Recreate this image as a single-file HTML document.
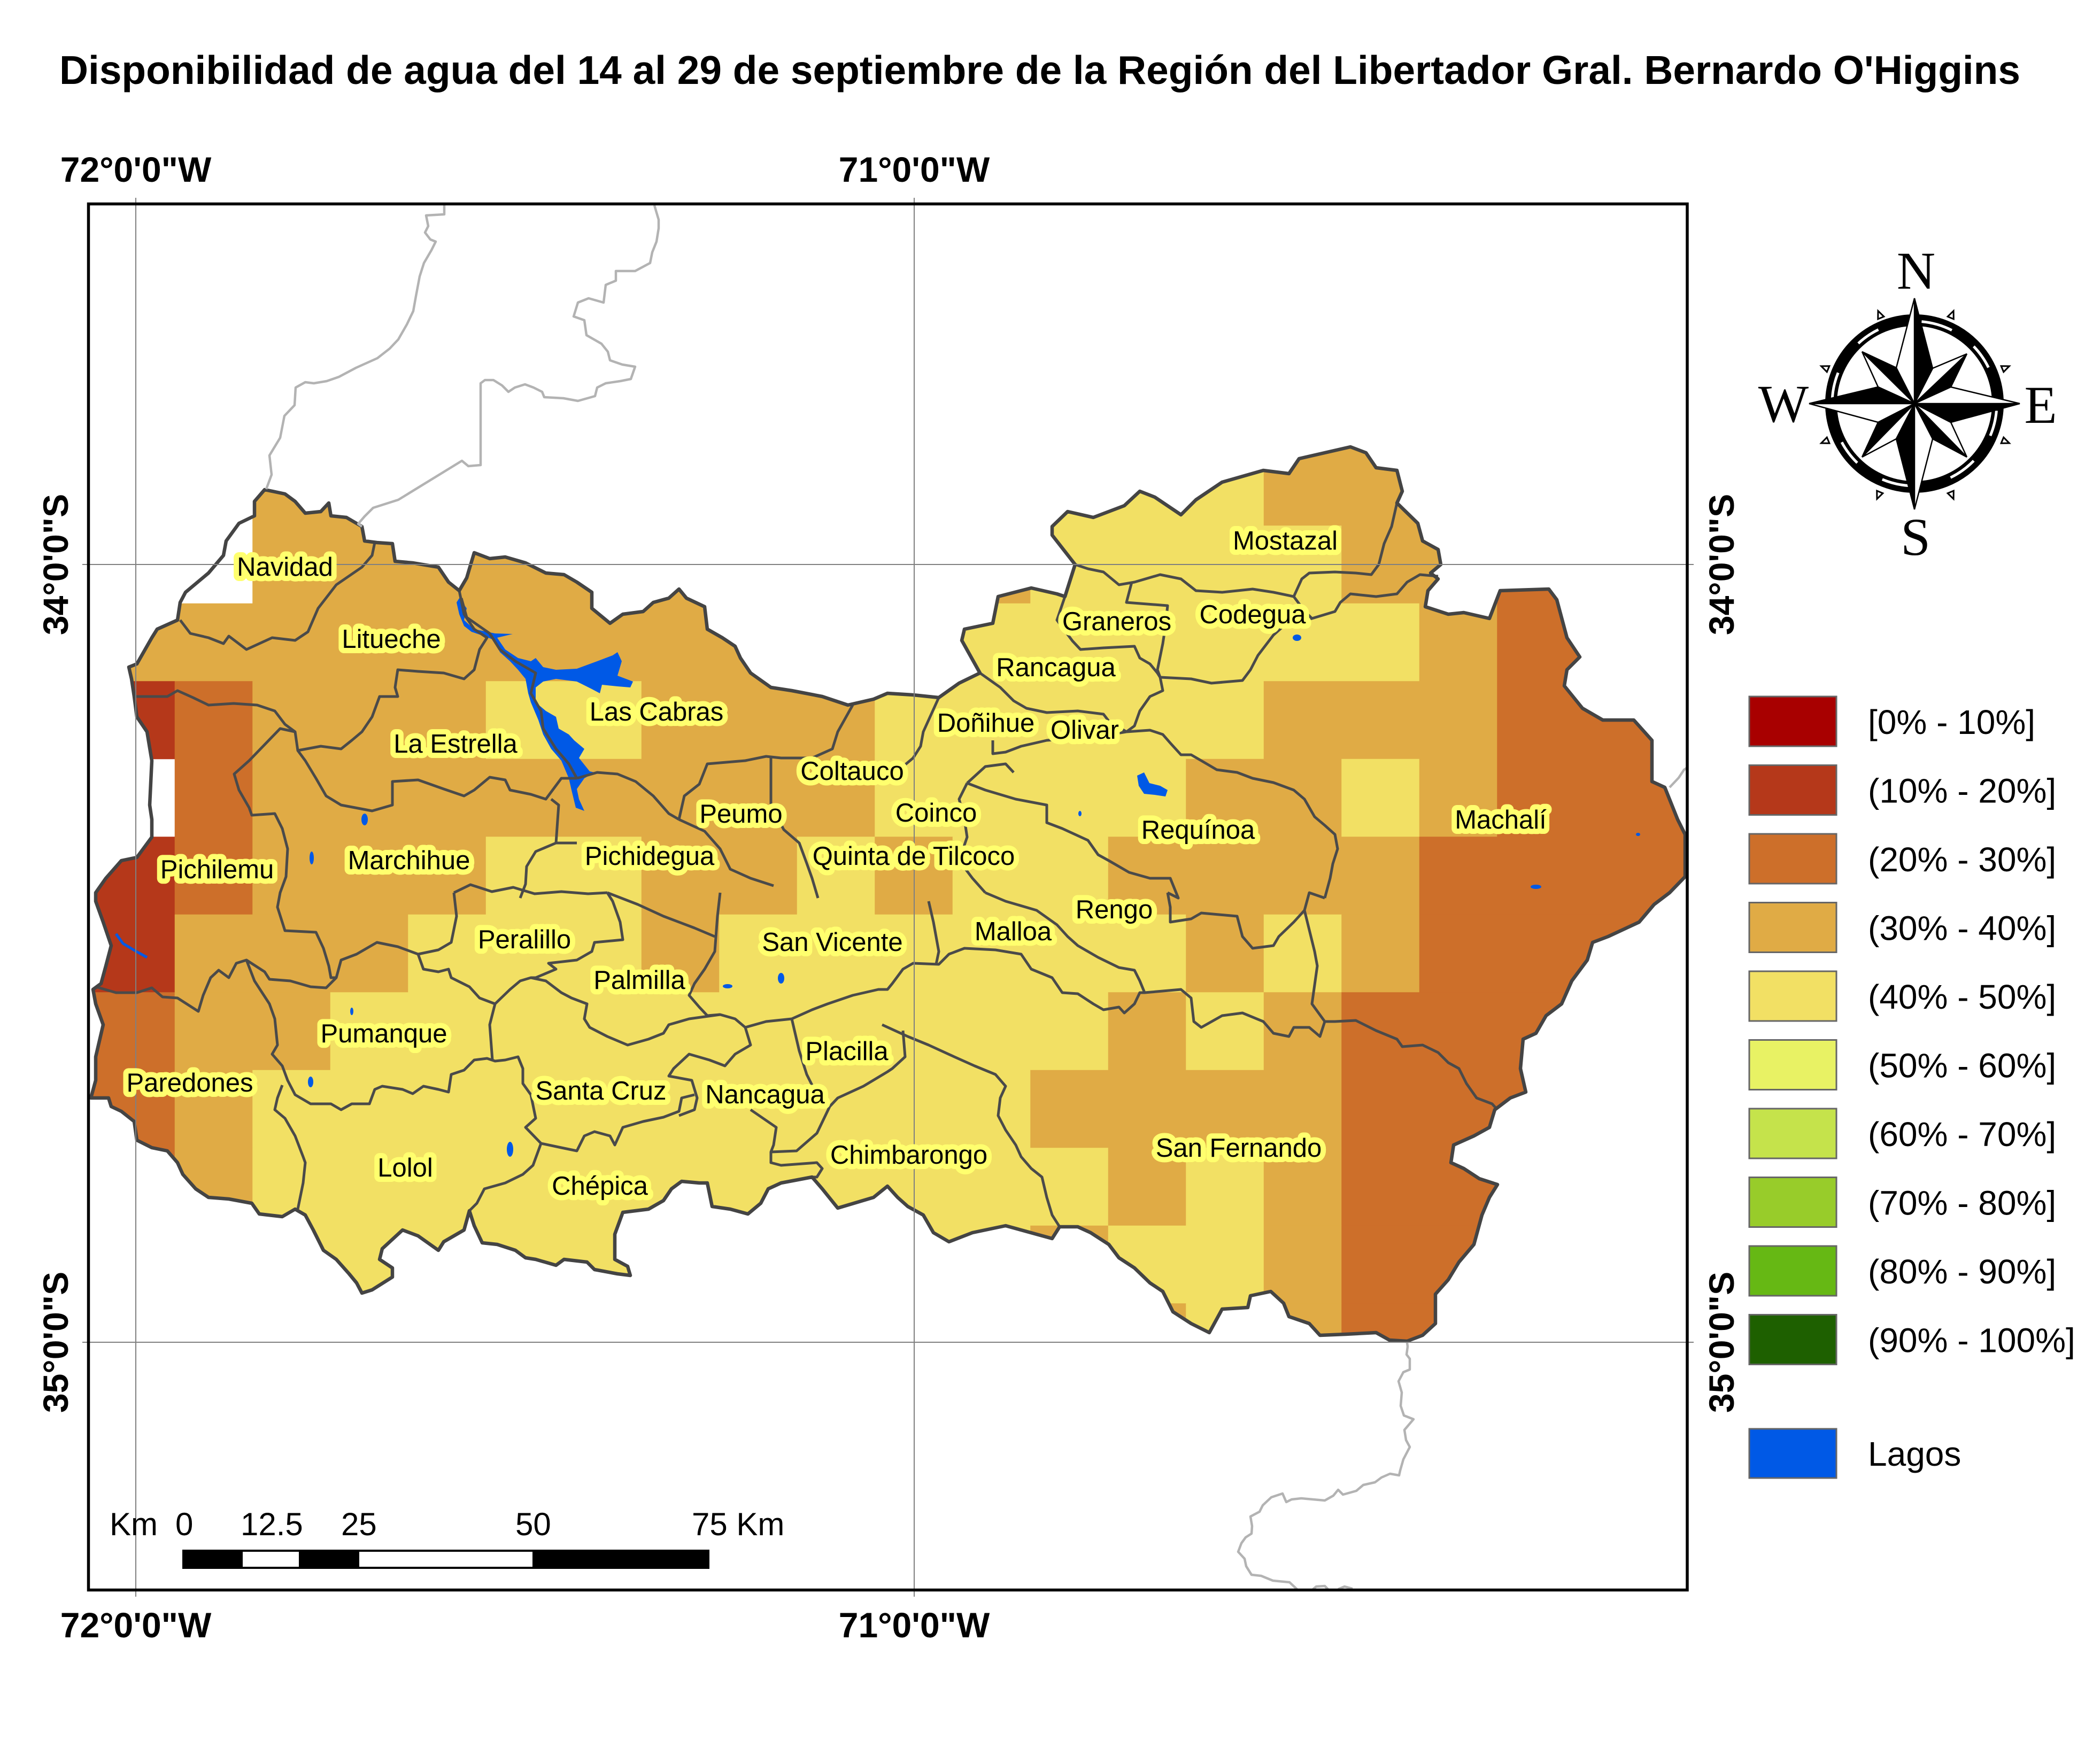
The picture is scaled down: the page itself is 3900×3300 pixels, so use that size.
<!DOCTYPE html>
<html>
<head>
<meta charset="utf-8">
<style>
html,body{margin:0;padding:0;background:#fff;}
svg{display:block;}
.lbl{font-family:"Liberation Sans",Arial,sans-serif;font-size:49px;fill:#000;stroke:#FFFF6E;stroke-width:20px;stroke-linejoin:round;paint-order:stroke fill;text-anchor:middle;}
.ax{font-family:"Liberation Sans",Arial,sans-serif;font-size:66px;font-weight:bold;fill:#000;text-anchor:middle;}
.lg{font-family:"Liberation Sans",Arial,sans-serif;font-size:64px;fill:#000;}
.sb{font-family:"Liberation Sans",Arial,sans-serif;font-size:60px;fill:#000;}
.cp{font-family:"Liberation Serif","Times New Roman",serif;font-size:100px;fill:#000;text-anchor:middle;}
.bd{fill:none;stroke:#4A4A4A;stroke-width:5;stroke-linejoin:round;}
.gr{fill:none;stroke:#B3B3B3;stroke-width:4.5;stroke-linejoin:round;}
</style>
</head>
<body>
<svg width="3900" height="3300" viewBox="0 0 3900 3300" xmlns="http://www.w3.org/2000/svg">
<rect x="0" y="0" width="3900" height="3300" fill="#fff"/>

<!-- Title -->
<text x="1945" y="157" font-family="Liberation Sans, Arial, sans-serif" font-size="75" font-weight="bold" text-anchor="middle" textLength="3668" lengthAdjust="spacingAndGlyphs">Disponibilidad de agua del 14 al 29 de septiembre de la Región del Libertador Gral. Bernardo O'Higgins</text>

<!-- Axis labels -->
<text class="ax" x="254" y="340">72°0'0"W</text>
<text class="ax" x="1710" y="340">71°0'0"W</text>
<text class="ax" x="254" y="3063">72°0'0"W</text>
<text class="ax" x="1710" y="3063">71°0'0"W</text>
<text class="ax" transform="translate(127,1056) rotate(-90)">34°0'0"S</text>
<text class="ax" transform="translate(127,2511) rotate(-90)">35°0'0"S</text>
<text class="ax" transform="translate(3243,1056) rotate(-90)">34°0'0"S</text>
<text class="ax" transform="translate(3243,2511) rotate(-90)">35°0'0"S</text>

<defs>
<clipPath id="reg">
<polygon id="regpoly" points="241,1248 256,1242 284,1193 294,1177 332,1160 337,1127 347,1108 390,1072 418,1039 423,1012 447,979 476,965 476,938 495,916 533,924 552,938 571,960 600,957 615,941 619,965 648,968 677,985 682,1012 705,1015 734,1017 739,1050 772,1053 820,1061 839,1089 859,1105 873,1081 878,1064 887,1034 916,1045 945,1042 983,1053 1021,1072 1055,1075 1079,1089 1107,1108 1107,1138 1141,1166 1165,1149 1203,1144 1222,1127 1251,1119 1270,1102 1284,1119 1318,1135 1323,1177 1351,1193 1375,1209 1385,1231 1404,1259 1442,1286 1481,1292 1538,1303 1586,1319 1634,1308 1660,1297 1708,1300 1756,1305 1794,1278 1833,1259 1799,1198 1804,1177 1857,1166 1867,1116 1929,1100 1977,1111 1992,1116 2011,1056 1968,1001 1968,985 1997,957 2045,968 2103,946 2132,919 2160,930 2209,963 2237,935 2286,902 2363,880 2411,886 2430,858 2478,847 2526,836 2555,847 2574,875 2613,880 2623,919 2613,941 2652,979 2661,1012 2690,1028 2695,1056 2676,1072 2690,1083 2671,1105 2666,1135 2709,1149 2738,1146 2786,1157 2806,1105 2897,1102 2912,1122 2931,1193 2955,1229 2931,1253 2926,1283 2960,1325 2998,1347 3056,1347 3090,1385 3090,1462 3114,1473 3138,1533 3152,1561 3152,1640 3123,1670 3094,1692 3066,1725 3008,1752 2979,1763 2969,1796 2940,1835 2921,1878 2892,1900 2873,1933 2849,1944 2844,1999 2854,2043 2825,2054 2796,2076 2786,2109 2757,2125 2719,2142 2714,2175 2738,2186 2767,2205 2801,2216 2786,2240 2772,2273 2757,2328 2729,2361 2709,2394 2685,2421 2685,2476 2661,2498 2632,2509 2599,2507 2574,2493 2517,2496 2469,2498 2449,2476 2411,2463 2401,2438 2377,2416 2339,2424 2334,2446 2286,2449 2262,2493 2228,2476 2194,2454 2175,2416 2151,2400 2122,2372 2093,2353 2074,2328 2040,2306 2016,2295 1982,2295 1968,2317 1939,2309 1881,2293 1819,2306 1775,2323 1746,2306 1727,2273 1698,2257 1679,2240 1660,2219 1634,2240 1567,2260 1538,2224 1519,2202 1461,2213 1437,2224 1423,2251 1399,2271 1366,2262 1332,2257 1323,2213 1308,2213 1275,2210 1256,2224 1241,2246 1213,2262 1165,2268 1150,2309 1150,2356 1174,2369 1179,2386 1155,2383 1112,2375 1098,2361 1055,2356 1040,2367 1002,2356 983,2353 964,2339 930,2328 902,2325 887,2293 878,2265 868,2301 830,2323 820,2339 782,2312 753,2301 715,2336 710,2356 734,2372 734,2389 696,2413 677,2419 667,2400 653,2383 629,2356 605,2339 586,2301 571,2273 552,2262 528,2276 485,2271 471,2251 428,2243 390,2240 366,2224 342,2197 332,2175 313,2153 284,2147 256,2133 251,2098 227,2079 208,2070 203,2054 170,2054 179,2021 179,1977 193,1917 179,1878 174,1851 189,1840 198,1807 208,1769 193,1725 179,1686 179,1670 198,1643 227,1610 256,1604 284,1566 284,1533 280,1506 284,1423 275,1369 256,1341 251,1303 246,1270"/>
</clipPath>
</defs>

<!-- Raster cells clipped to region -->
<g clip-path="url(#reg)">
<rect x="1636.25" y="692.25" width="728" height="146" fill="#F2E064"/>
<rect x="2363.75" y="692.25" width="437" height="146" fill="#E0AB45"/>
<rect x="472.25" y="837.75" width="1164.5" height="146" fill="#E0AB45"/>
<rect x="1636.25" y="837.75" width="728" height="146" fill="#F2E064"/>
<rect x="2363.75" y="837.75" width="437" height="146" fill="#E0AB45"/>
<rect x="2800.25" y="837.75" width="437" height="146" fill="#CD6F2A"/>
<rect x="472.25" y="983.25" width="1455.5" height="146" fill="#E0AB45"/>
<rect x="1927.25" y="983.25" width="582.5" height="146" fill="#F2E064"/>
<rect x="2509.25" y="983.25" width="291.5" height="146" fill="#E0AB45"/>
<rect x="2800.25" y="983.25" width="437" height="146" fill="#CD6F2A"/>
<rect x="35.75" y="1128.75" width="1601" height="146" fill="#E0AB45"/>
<rect x="1636.25" y="1128.75" width="1019" height="146" fill="#F2E064"/>
<rect x="2654.75" y="1128.75" width="146" height="146" fill="#E0AB45"/>
<rect x="2800.25" y="1128.75" width="437" height="146" fill="#CD6F2A"/>
<rect x="35.75" y="1274.25" width="291.5" height="146" fill="#B5381A"/>
<rect x="326.75" y="1274.25" width="146" height="146" fill="#CD6F2A"/>
<rect x="472.25" y="1274.25" width="437" height="146" fill="#E0AB45"/>
<rect x="908.75" y="1274.25" width="291.5" height="146" fill="#F2E064"/>
<rect x="1199.75" y="1274.25" width="437" height="146" fill="#E0AB45"/>
<rect x="1636.25" y="1274.25" width="728" height="146" fill="#F2E064"/>
<rect x="2363.75" y="1274.25" width="437" height="146" fill="#E0AB45"/>
<rect x="2800.25" y="1274.25" width="437" height="146" fill="#CD6F2A"/>
<rect x="326.75" y="1419.75" width="146" height="146" fill="#CD6F2A"/>
<rect x="472.25" y="1419.75" width="1164.5" height="146" fill="#E0AB45"/>
<rect x="1636.25" y="1419.75" width="582.5" height="146" fill="#F2E064"/>
<rect x="2218.25" y="1419.75" width="291.5" height="146" fill="#E0AB45"/>
<rect x="2509.25" y="1419.75" width="146" height="146" fill="#F2E064"/>
<rect x="2654.75" y="1419.75" width="146" height="146" fill="#E0AB45"/>
<rect x="2800.25" y="1419.75" width="437" height="146" fill="#CD6F2A"/>
<rect x="35.75" y="1565.25" width="291.5" height="146" fill="#B5381A"/>
<rect x="326.75" y="1565.25" width="146" height="146" fill="#CD6F2A"/>
<rect x="472.25" y="1565.25" width="437" height="146" fill="#E0AB45"/>
<rect x="908.75" y="1565.25" width="291.5" height="146" fill="#F2E064"/>
<rect x="1199.75" y="1565.25" width="291.5" height="146" fill="#E0AB45"/>
<rect x="1490.75" y="1565.25" width="146" height="146" fill="#F2E064"/>
<rect x="1636.25" y="1565.25" width="146" height="146" fill="#E0AB45"/>
<rect x="1781.75" y="1565.25" width="291.5" height="146" fill="#F2E064"/>
<rect x="2072.75" y="1565.25" width="582.5" height="146" fill="#E0AB45"/>
<rect x="2654.75" y="1565.25" width="582.5" height="146" fill="#CD6F2A"/>
<rect x="35.75" y="1710.75" width="291.5" height="146" fill="#B5381A"/>
<rect x="326.75" y="1710.75" width="437" height="146" fill="#E0AB45"/>
<rect x="763.25" y="1710.75" width="437" height="146" fill="#F2E064"/>
<rect x="1199.75" y="1710.75" width="146" height="146" fill="#E0AB45"/>
<rect x="1345.25" y="1710.75" width="873.5" height="146" fill="#F2E064"/>
<rect x="2218.25" y="1710.75" width="146" height="146" fill="#E0AB45"/>
<rect x="2363.75" y="1710.75" width="146" height="146" fill="#F2E064"/>
<rect x="2509.25" y="1710.75" width="146" height="146" fill="#E0AB45"/>
<rect x="2654.75" y="1710.75" width="582.5" height="146" fill="#CD6F2A"/>
<rect x="35.75" y="1856.25" width="291.5" height="146" fill="#CD6F2A"/>
<rect x="326.75" y="1856.25" width="291.5" height="146" fill="#E0AB45"/>
<rect x="617.75" y="1856.25" width="1455.5" height="146" fill="#F2E064"/>
<rect x="2072.75" y="1856.25" width="146" height="146" fill="#E0AB45"/>
<rect x="2218.25" y="1856.25" width="146" height="146" fill="#F2E064"/>
<rect x="2363.75" y="1856.25" width="146" height="146" fill="#E0AB45"/>
<rect x="2509.25" y="1856.25" width="728" height="146" fill="#CD6F2A"/>
<rect x="35.75" y="2001.75" width="291.5" height="146" fill="#CD6F2A"/>
<rect x="326.75" y="2001.75" width="146" height="146" fill="#E0AB45"/>
<rect x="472.25" y="2001.75" width="1455.5" height="146" fill="#F2E064"/>
<rect x="1927.25" y="2001.75" width="582.5" height="146" fill="#E0AB45"/>
<rect x="2509.25" y="2001.75" width="728" height="146" fill="#CD6F2A"/>
<rect x="35.75" y="2147.25" width="291.5" height="146" fill="#CD6F2A"/>
<rect x="326.75" y="2147.25" width="146" height="146" fill="#E0AB45"/>
<rect x="472.25" y="2147.25" width="1601" height="146" fill="#F2E064"/>
<rect x="2072.75" y="2147.25" width="146" height="146" fill="#E0AB45"/>
<rect x="2218.25" y="2147.25" width="146" height="146" fill="#F2E064"/>
<rect x="2363.75" y="2147.25" width="146" height="146" fill="#E0AB45"/>
<rect x="2509.25" y="2147.25" width="728" height="146" fill="#CD6F2A"/>
<rect x="35.75" y="2292.75" width="291.5" height="146" fill="#CD6F2A"/>
<rect x="326.75" y="2292.75" width="146" height="146" fill="#E0AB45"/>
<rect x="472.25" y="2292.75" width="1455.5" height="146" fill="#F2E064"/>
<rect x="1927.25" y="2292.75" width="146" height="146" fill="#E0AB45"/>
<rect x="2072.75" y="2292.75" width="291.5" height="146" fill="#F2E064"/>
<rect x="2363.75" y="2292.75" width="146" height="146" fill="#E0AB45"/>
<rect x="2509.25" y="2292.75" width="728" height="146" fill="#CD6F2A"/>
<rect x="35.75" y="2438.25" width="2037.5" height="146" fill="#F2E064"/>
<rect x="2072.75" y="2438.25" width="146" height="146" fill="#E0AB45"/>
<rect x="2218.25" y="2438.25" width="146" height="146" fill="#F2E064"/>
<rect x="2363.75" y="2438.25" width="146" height="146" fill="#E0AB45"/>
<rect x="2509.25" y="2438.25" width="728" height="146" fill="#CD6F2A"/>
</g>

<!-- Lakes -->
<g fill="#0059E6">
<polygon points="859,1119 873,1138 868,1160 887,1177 926,1185 959,1186 930,1193 945,1215 969,1231 993,1237 1002,1231 1016,1248 1040,1253 1079,1251 1117,1237 1146,1226 1155,1220 1163,1237 1155,1264 1184,1275 1179,1286 1155,1284 1126,1281 1122,1297 1107,1289 1079,1275 1040,1270 1016,1275 1002,1286 1002,1314 1021,1330 1040,1341 1045,1363 1064,1374 1074,1385 1093,1401 1083,1418 1103,1443 1112,1445 1093,1456 1079,1476 1083,1495 1093,1517 1077,1511 1069,1478 1064,1456 1050,1423 1031,1401 1016,1374 1007,1347 993,1314 988,1297 983,1270 969,1253 954,1237 935,1220 926,1198 906,1190 882,1182 868,1171 859,1149 854,1127"/>
<polygon points="2127,1451 2140,1445 2150,1465 2170,1470 2184,1478 2180,1490 2160,1487 2140,1485 2130,1470"/>
<ellipse cx="682" cy="1533" rx="6" ry="11"/>
<ellipse cx="583" cy="1605" rx="4" ry="12"/>
<ellipse cx="581" cy="2024" rx="5" ry="10"/>
<ellipse cx="954" cy="2150" rx="6" ry="14"/>
<ellipse cx="1461" cy="1830" rx="6" ry="10"/>
<ellipse cx="1361" cy="1845" rx="9" ry="4"/>
<ellipse cx="658" cy="1892" rx="3" ry="7"/>
<ellipse cx="2426" cy="1193" rx="8" ry="6"/>
<ellipse cx="2873" cy="1659" rx="10" ry="4"/>
<ellipse cx="3064" cy="1561" rx="4" ry="3"/>
<ellipse cx="2020" cy="1522" rx="3" ry="5"/>
</g>
<polyline points="217,1747 230,1765 255,1780 275,1791" fill="none" stroke="#0059E6" stroke-width="5"/>

<!-- Internal commune boundaries -->
<g class="bd">
<polyline points="337,1160 356,1185 390,1193 418,1204 428,1190 461,1215 509,1193 552,1198 576,1182 595,1138 629,1094 677,1061 696,1039 701,1015"/>
<polyline points="859,1105 868,1149 887,1177 911,1193 897,1215 887,1253 868,1270 830,1259 782,1256 744,1253 739,1286 744,1303 710,1303 696,1341 677,1369 658,1385 638,1401 600,1396 557,1404 552,1369 533,1355 514,1330 481,1319 437,1316 390,1319 361,1305 332,1292 313,1303 294,1303 251,1303"/>
<polyline points="1079,1456 1050,1456 1021,1495 993,1486 954,1478 945,1459 916,1454 887,1478 868,1489 830,1476 782,1459 734,1462 734,1506 696,1517 638,1506 610,1489 591,1456 571,1423 557,1404"/>
<polyline points="863,1119 873,1155 916,1185 935,1215 964,1237 1002,1259 993,1297 1012,1330 1016,1363 1040,1401 1064,1429 1079,1456"/>
<polyline points="1079,1456 1117,1445 1155,1448 1189,1462 1222,1489 1251,1522 1270,1533"/>
<polyline points="1595,1319 1567,1369 1557,1401 1519,1418 1461,1418 1433,1415 1394,1423 1323,1429 1308,1467 1280,1489 1270,1533"/>
<polyline points="1442,1415 1442,1506 1466,1552 1495,1577 1509,1615 1519,1643 1530,1680"/>
<polyline points="1270,1533 1318,1555 1347,1588 1366,1626 1404,1643 1447,1657"/>
<polyline points="552,1369 524,1363 466,1423 438,1448 447,1478 466,1511 471,1525 514,1522 528,1550 538,1588 535,1640 524,1670 519,1697 533,1741 591,1744 605,1774 615,1807 619,1829 629,1829"/>
<polyline points="179,1846 217,1857 256,1857 284,1848 304,1865 332,1867 371,1892 380,1862 394,1829 409,1815 428,1829 442,1802 461,1796 495,1818 504,1832 543,1835 581,1846 610,1848 629,1829 638,1796 667,1785 705,1763 744,1771 782,1785"/>
<polyline points="849,1670 854,1714 844,1763 820,1777 782,1785"/>
<polyline points="1031,1495 1045,1506 1040,1577 1079,1577"/>
<polyline points="1040,1577 1002,1593 985,1621 983,1654 973,1680"/>
<polyline points="849,1670 880,1655 920,1668 960,1660 1000,1672 1050,1668 1100,1672 1136,1670"/>
<polyline points="1136,1670 1146,1686 1160,1725 1165,1758 1112,1763 1107,1780 1079,1796 1026,1802 1040,1813 1002,1829 993,1829 973,1835 954,1851 926,1878"/>
<polyline points="782,1785 792,1813 820,1818 839,1813 844,1829 878,1846 897,1867 926,1878 916,1917 921,1983"/>
<polyline points="993,1829 1021,1835 1050,1857 1069,1867 1098,1878 1093,1906 1103,1922 1136,1939 1174,1955 1213,1944 1241,1933 1251,1917 1289,1906 1347,1898 1375,1906 1394,1922 1404,1955 1375,1972 1356,1994 1327,1983 1289,1972 1260,1999 1251,2013 1294,2021 1304,2054 1299,2076 1270,2087"/>
<polyline points="461,1796 476,1835 504,1878 514,1906 519,1955 509,1972 528,1994 538,2021 552,2048 581,2065 619,2065 638,2076 658,2065 691,2065 701,2038 715,2032 753,2038 772,2046 792,2032 820,2038 839,2043 844,2010 868,2002 887,1983 911,1980 926,1985 945,1983 969,1977 978,1999 978,2027 993,2048 1002,2092 983,2109 1012,2139 1050,2147 1079,2153 1093,2125 1112,2117 1141,2125 1150,2142 1165,2109 1203,2098 1241,2090 1270,2079 1275,2054 1299,2048"/>
<polyline points="528,2030 519,2054 514,2076 533,2092 552,2125 567,2164 571,2175 567,2213 557,2262"/>
<polyline points="1012,2139 997,2180 978,2197 945,2213 906,2224 892,2251 878,2265"/>
<polyline points="1347,1670 1342,1714 1337,1780 1318,1813 1299,1840 1289,1862 1308,1884 1323,1900 1347,1898"/>
<polyline points="1136,1670 1193,1692 1241,1714 1299,1736 1337,1752"/>
<polyline points="1394,1922 1433,1911 1481,1906 1519,1889 1548,1878 1595,1862 1643,1851 1660,1851 1669,1840 1689,1813 1708,1802 1756,1804 1775,1785 1804,1774 1862,1777 1910,1785 1929,1813 1968,1829 1987,1857 2016,1859 2045,1878 2064,1889 2093,1884 2103,1895 2122,1878 2132,1857 2141,1857 2209,1851 2228,1867 2233,1911 2247,1922 2286,1900 2324,1895 2363,1911 2382,1933 2411,1939 2420,1922 2449,1922 2469,1939 2478,1911 2497,1911 2536,1909 2574,1928 2613,1944 2623,1958 2661,1955 2690,1969 2709,1988 2729,1999 2743,2027 2762,2054 2791,2065 2801,2076"/>
<polyline points="1481,1906 1495,1966 1509,2010 1519,2030 1552,2070"/>
<polyline points="1404,2076 1452,2109 1447,2142 1442,2155 1490,2153 1528,2120 1552,2070 1567,2054 1615,2032 1660,2005 1669,1999 1693,1977 1689,1928"/>
<polyline points="1650,1917 1698,1939 1737,1955 1785,1977 1823,1994 1862,2010 1881,2032 1871,2054 1867,2087 1881,2114 1900,2142 1910,2164 1929,2186 1949,2202 1958,2240 1968,2273 1982,2295"/>
<polyline points="1442,2155 1442,2175 1461,2180 1528,2175 1538,2186 1528,2202 1519,2202"/>
<polyline points="1737,1686 1746,1725 1756,1780 1751,1804"/>
<polyline points="2184,1670 2189,1697 2189,1725 2228,1719 2247,1708 2314,1714 2324,1752 2343,1774 2382,1769 2392,1752 2420,1725 2440,1703 2449,1670 2478,1680"/>
<polyline points="1843,1670 1881,1686 1939,1703 1977,1730 1997,1752 2016,1769 2054,1791 2093,1810 2122,1815 2132,1835 2141,1857"/>
<polyline points="2107,1369 2151,1366 2175,1374 2189,1390 2209,1412 2228,1412 2247,1423 2276,1440 2314,1445 2343,1456 2382,1464 2420,1478 2440,1495 2459,1528 2478,1544 2497,1561 2502,1588 2493,1616 2488,1643 2478,1680"/>
<polyline points="1809,1465 1843,1478 1900,1495 1958,1506 1958,1539 1987,1550 2035,1572 2054,1599 2074,1610 2112,1632 2151,1643 2189,1643 2204,1680 2184,1670"/>
<polyline points="1809,1465 1794,1495 1804,1533 1809,1566 1794,1610 1819,1643 1843,1670"/>
<polyline points="1809,1465 1843,1434 1881,1429 1896,1445"/>
<polyline points="2478,1911 2454,1878 2464,1807 2459,1780 2440,1703"/>
<polyline points="2011,1056 2035,1064 2064,1070 2093,1094 2122,1089 2170,1075 2209,1083 2237,1105 2286,1108 2343,1102 2382,1108 2420,1116 2435,1083 2449,1072 2497,1070 2536,1072 2565,1075 2579,1056 2589,1017 2603,985 2613,941"/>
<polyline points="2420,1116 2440,1143 2454,1157 2497,1144 2507,1127 2526,1111 2574,1116 2613,1111 2632,1089 2656,1075 2690,1078"/>
<polyline points="2117,1089 2107,1127 2184,1133 2180,1171 2175,1204 2165,1253 2170,1267 2228,1270 2266,1278 2324,1273 2339,1253 2353,1226 2382,1188 2401,1171 2454,1157"/>
<polyline points="1992,1116 1977,1160 2006,1199 2021,1215 2064,1212 2122,1209 2132,1231 2151,1242 2165,1259 2170,1267"/>
<polyline points="1833,1259 1871,1286 1896,1311 1920,1325 1958,1333 2016,1330 2064,1336 2074,1349 2107,1369"/>
<polyline points="2170,1267 2175,1292 2151,1303 2132,1330 2122,1358 2107,1369"/>
<polyline points="1756,1305 1727,1369 1722,1396 1708,1418 1689,1434 1650,1445"/>
<polyline points="2107,1369 2054,1378 1958,1385 1910,1396 1881,1407 1857,1410 1857,1385"/>
</g>

<!-- Region outline -->
<use href="#regpoly" fill="none" stroke="#444444" stroke-width="6.5" stroke-linejoin="round"/>

<!-- Neighbouring region lines (grey) -->
<g class="gr">
<polyline points="831,384 831,401 797,403 801,423 795,435 805,448 815,452 807,468 793,492 785,517 778,554 773,582 761,607 745,635 729,652 706,670 666,688 634,705 611,713 587,717 571,715 553,725 551,758 532,778 524,819 504,852 508,888 498,915"/>
<polyline points="677,985 670,980 682,966 698,950 745,935 864,862 876,872 899,870 899,717 907,711 923,711 939,721 951,733 963,725 982,719 998,725 1014,733 1018,743 1054,745 1081,750 1113,741 1117,725 1133,717 1160,713 1180,709 1188,686 1164,682 1141,674 1137,658 1125,643 1097,627 1093,599 1073,592 1081,566 1101,558 1129,566 1133,533 1152,525 1152,507 1188,507 1216,492 1220,472 1228,452 1232,427 1232,411 1224,384"/>
<polyline points="2632,2512 2633,2519 2631,2534 2637,2542 2637,2562 2625,2567 2616,2584 2622,2605 2620,2630 2626,2648 2644,2655 2627,2675 2630,2694 2637,2707 2625,2730 2619,2751 2617,2760 2600,2757 2584,2764 2572,2773 2550,2778 2537,2789 2512,2796 2503,2787 2494,2798 2478,2807 2456,2805 2434,2803 2416,2805 2406,2810 2399,2794 2378,2801 2362,2816 2356,2828 2339,2837 2342,2855 2341,2869 2330,2876 2322,2887 2316,2903 2328,2916 2331,2930 2341,2946 2359,2948 2381,2957 2412,2960 2426,2973"/>
<polyline points="2456,2973 2462,2968 2478,2967 2484,2973"/>
<polyline points="2503,2973 2515,2968 2530,2972"/>
<polyline points="3123,1473 3140,1455 3150,1440 3156,1436"/>
</g>

<!-- Graticule -->
<g stroke="#808080" stroke-width="2">
<line x1="254" y1="370" x2="254" y2="2987"/>
<line x1="1710" y1="370" x2="1710" y2="2987"/>
<line x1="154" y1="1056" x2="3168" y2="1056"/>
<line x1="154" y1="2511" x2="3168" y2="2511"/>
</g>

<!-- Map labels -->
<g>
<text class="lbl" x="533" y="1077">Navidad</text>
<text class="lbl" x="732" y="1212">Litueche</text>
<text class="lbl" x="852" y="1408">La Estrella</text>
<text class="lbl" x="1228" y="1348">Las Cabras</text>
<text class="lbl" x="1594" y="1459">Coltauco</text>
<text class="lbl" x="1386" y="1539">Peumo</text>
<text class="lbl" x="406" y="1643">Pichilemu</text>
<text class="lbl" x="765" y="1626">Marchihue</text>
<text class="lbl" x="1215" y="1618">Pichidegua</text>
<text class="lbl" x="1709" y="1618">Quinta de Tilcoco</text>
<text class="lbl" x="2404" y="1028">Mostazal</text>
<text class="lbl" x="2089" y="1179">Graneros</text>
<text class="lbl" x="2343" y="1166">Codegua</text>
<text class="lbl" x="1975" y="1265">Rancagua</text>
<text class="lbl" x="1844" y="1369">Doñihue</text>
<text class="lbl" x="2029" y="1382">Olivar</text>
<text class="lbl" x="1751" y="1537">Coinco</text>
<text class="lbl" x="2241" y="1569">Requínoa</text>
<text class="lbl" x="2807" y="1550">Machalí</text>
<text class="lbl" x="981" y="1774">Peralillo</text>
<text class="lbl" x="1196" y="1850">Palmilla</text>
<text class="lbl" x="1557" y="1779">San Vicente</text>
<text class="lbl" x="718" y="1950">Pumanque</text>
<text class="lbl" x="355" y="2042">Paredones</text>
<text class="lbl" x="1124" y="2057">Santa Cruz</text>
<text class="lbl" x="1431" y="2064">Nancagua</text>
<text class="lbl" x="1584" y="1983">Placilla</text>
<text class="lbl" x="758" y="2201">Lolol</text>
<text class="lbl" x="1122" y="2235">Chépica</text>
<text class="lbl" x="1700" y="2177">Chimbarongo</text>
<text class="lbl" x="2084" y="1718">Rengo</text>
<text class="lbl" x="1895" y="1759">Malloa</text>
<text class="lbl" x="2317" y="2164">San Fernando</text>
</g>

<!-- Scale bar -->
<rect x="341" y="2899" width="986" height="36" fill="#000"/>
<rect x="454" y="2903" width="105" height="28" fill="#fff"/>
<rect x="672" y="2903" width="324" height="28" fill="#fff"/>
<text class="sb" x="205" y="2872">Km</text>
<text class="sb" x="328" y="2872">0</text>
<text class="sb" x="450" y="2872">12.5</text>
<text class="sb" x="638" y="2872">25</text>
<text class="sb" x="964" y="2872">50</text>
<text class="sb" x="1294" y="2872">75 Km</text>

<!-- Frame -->
<rect x="165.5" y="381.5" width="2990.5" height="2593" fill="none" stroke="#000" stroke-width="5.5"/>

<!-- Compass rose -->
<g>
<circle cx="3581" cy="755" r="156" fill="none" stroke="#000" stroke-width="22"/>
<g fill="none" stroke="#fff" stroke-width="5">
<path d="M3594.4,601.6 A154,154 0 0 1 3650.9,617.8"/>
<path d="M3691.8,648 A154,154 0 0 1 3719.4,687.5"/>
<path d="M3734.4,768.4 A154,154 0 0 1 3722.8,815.2"/>
<path d="M3691.8,862 A154,154 0 0 1 3648.5,893.4"/>
<path d="M3570.3,908.6 A154,154 0 0 1 3520.8,896.8"/>
<path d="M3474,865.8 A154,154 0 0 1 3445,827.3"/>
<path d="M3427.4,765.7 A154,154 0 0 1 3438.2,697.3"/>
<path d="M3476,642.4 A154,154 0 0 1 3513.5,616.6"/>
</g>
<g stroke="#000" stroke-width="2.5" stroke-linejoin="miter">
<!-- diagonal points (clockwise half black) -->
<polygon points="3581,755 3679,662 3649,724" fill="#000"/>
<polygon points="3581,755 3679,662 3615,689" fill="#fff"/>
<polygon points="3581,755 3679,855 3615,821" fill="#000"/>
<polygon points="3581,755 3679,855 3649,790" fill="#fff"/>
<polygon points="3581,755 3483,855 3513,790" fill="#000"/>
<polygon points="3581,755 3483,855 3547,821" fill="#fff"/>
<polygon points="3581,755 3483,658 3547,688" fill="#000"/>
<polygon points="3581,755 3483,658 3513,724" fill="#fff"/>
<!-- main points -->
<polygon points="3581,755 3581,558 3615,689" fill="#000"/>
<polygon points="3581,755 3581,558 3547,688" fill="#fff"/>
<polygon points="3581,755 3778,755 3649,790" fill="#000"/>
<polygon points="3581,755 3778,755 3649,724" fill="#fff"/>
<polygon points="3581,755 3581,953 3547,821" fill="#000"/>
<polygon points="3581,755 3581,953 3615,821" fill="#fff"/>
<polygon points="3581,755 3384,755 3513,724" fill="#000"/>
<polygon points="3581,755 3384,755 3513,790" fill="#fff"/>
</g>
<g fill="#fff" stroke="#000" stroke-width="3">
<polygon points="0,-8 6,6 -6,6" transform="translate(3651,589) rotate(22.5)"/>
<polygon points="0,-8 6,6 -6,6" transform="translate(3751,688) rotate(67.5)"/>
<polygon points="0,-8 6,6 -6,6" transform="translate(3751,826) rotate(112.5)"/>
<polygon points="0,-8 6,6 -6,6" transform="translate(3651,926) rotate(157.5)"/>
<polygon points="0,-8 6,6 -6,6" transform="translate(3514,926) rotate(202.5)"/>
<polygon points="0,-8 6,6 -6,6" transform="translate(3414,826) rotate(247.5)"/>
<polygon points="0,-8 6,6 -6,6" transform="translate(3414,688) rotate(292.5)"/>
<polygon points="0,-8 6,6 -6,6" transform="translate(3516,589) rotate(337.5)"/>
</g>
<text class="cp" x="3584" y="540">N</text>
<text class="cp" x="3336" y="789">W</text>
<text class="cp" x="3817" y="791">E</text>
<text class="cp" x="3583" y="1038">S</text>
</g>

<!-- Legend -->
<g stroke="#666" stroke-width="3">
<rect x="3272" y="1303" width="163" height="93" fill="#A80000"/>
<rect x="3272" y="1431.5" width="163" height="93" fill="#B5381A"/>
<rect x="3272" y="1560" width="163" height="93" fill="#CD6F2A"/>
<rect x="3272" y="1688.5" width="163" height="93" fill="#E0AB45"/>
<rect x="3272" y="1817" width="163" height="93" fill="#F2E064"/>
<rect x="3272" y="1945.5" width="163" height="93" fill="#E8F264"/>
<rect x="3272" y="2074" width="163" height="93" fill="#C5E34B"/>
<rect x="3272" y="2202.5" width="163" height="93" fill="#98CC2A"/>
<rect x="3272" y="2331" width="163" height="93" fill="#66B814"/>
<rect x="3272" y="2459.5" width="163" height="93" fill="#1E6000"/>
<rect x="3272" y="2673" width="163" height="92" fill="#0059E6"/>
</g>
<g class="lg">
<text x="3494" y="1373">[0% - 10%]</text>
<text x="3494" y="1501.5">(10% - 20%]</text>
<text x="3494" y="1630">(20% - 30%]</text>
<text x="3494" y="1758.5">(30% - 40%]</text>
<text x="3494" y="1887">(40% - 50%]</text>
<text x="3494" y="2015.5">(50% - 60%]</text>
<text x="3494" y="2144">(60% - 70%]</text>
<text x="3494" y="2272.5">(70% - 80%]</text>
<text x="3494" y="2401">(80% - 90%]</text>
<text x="3494" y="2529.5">(90% - 100%]</text>
<text x="3494" y="2742">Lagos</text>
</g>
</svg>
</body>
</html>
